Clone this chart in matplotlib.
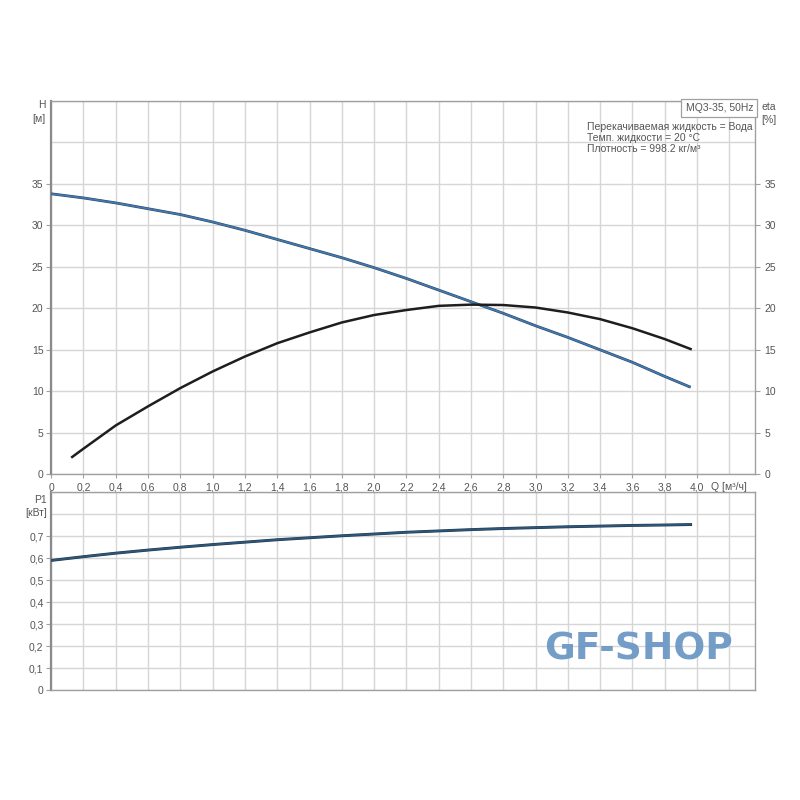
import matplotlib
matplotlib.use("Agg")
import matplotlib.pyplot as plt
import matplotlib.patheffects as pe
import numpy as np

plt.rcParams['font.family'] = ['Liberation Sans', 'DejaVu Sans']

# ---- data ----
q_h = [0.0, 0.2, 0.4, 0.6, 0.8, 1.0, 1.2, 1.4, 1.6, 1.8, 2.0, 2.2, 2.4, 2.6, 2.8, 3.0, 3.2, 3.4, 3.6, 3.8, 3.96]
head = [33.8, 33.3, 32.7, 32.0, 31.3, 30.4, 29.4, 28.3, 27.2, 26.1, 24.9, 23.6, 22.2, 20.8, 19.4, 17.9, 16.5, 15.0, 13.5, 11.8, 10.5]

q_eta = [0.13, 0.2, 0.4, 0.6, 0.8, 1.0, 1.2, 1.4, 1.6, 1.8, 2.0, 2.2, 2.4, 2.6, 2.8, 3.0, 3.2, 3.4, 3.6, 3.8, 3.96]
eta = [2.1, 3.1, 5.9, 8.2, 10.4, 12.4, 14.2, 15.8, 17.1, 18.3, 19.2, 19.8, 20.3, 20.45, 20.4, 20.1, 19.5, 18.7, 17.6, 16.3, 15.1]

q_p = [0.0, 0.2, 0.4, 0.6, 0.8, 1.0, 1.2, 1.4, 1.6, 1.8, 2.0, 2.2, 2.4, 2.6, 2.8, 3.0, 3.2, 3.4, 3.6, 3.8, 3.96]
p1 = [0.589, 0.606, 0.622, 0.636, 0.649, 0.661, 0.672, 0.683, 0.692, 0.701, 0.709, 0.717, 0.723, 0.729, 0.734, 0.738, 0.742, 0.745, 0.748, 0.750, 0.752]

q_ticks = [0.0, 0.2, 0.4, 0.6, 0.8, 1.0, 1.2, 1.4, 1.6, 1.8, 2.0, 2.2, 2.4, 2.6, 2.8, 3.0, 3.2, 3.4, 3.6, 3.8, 4.0]
q_tick_labels = ["0", "0,2", "0,4", "0,6", "0,8", "1,0", "1,2", "1,4", "1,6", "1,8", "2,0",
                 "2,2", "2,4", "2,6", "2,8", "3,0", "3,2", "3,4", "3,6", "3,8", "4,0"]
h_ticks = [0, 5, 10, 15, 20, 25, 30, 35]
p_ticks = [0, 0.1, 0.2, 0.3, 0.4, 0.5, 0.6, 0.7]
p_tick_labels = ["0", "0,1", "0,2", "0,3", "0,4", "0,5", "0,6", "0,7"]

info_lines = ["Перекачиваемая жидкость = Вода", "Темп. жидкости = 20 °C", "Плотность = 998.2 кг/м³"]
title_box = "MQ3-35, 50Hz"

# ---- style ----
GRID = '#d6d6d6'
SPINE = '#a0a0a0'
TXT = '#555555'
FS = 7.5

fig = plt.figure(figsize=(8, 8), dpi=100)
fig.patch.set_facecolor('white')

XMAX = 4.36

def style_axes(ax, ymax, grid_extra):
    ax.set_xlim(0, XMAX)
    ax.set_ylim(0, ymax)
    ax.set_xticks(q_ticks)
    ax.set_xticks([4.2], minor=True)
    ax.set_yticks(grid_extra, minor=True)
    ax.grid(True, which='both', color=GRID, lw=1.0)
    ax.set_axisbelow(True)
    for s in ax.spines.values():
        s.set_color(SPINE)
        s.set_linewidth(1.0)
    ax.spines['left'].set_color('#8a8a8a')
    ax.spines['left'].set_linewidth(1.6)
    ax.tick_params(which='minor', length=0)
    ax.tick_params(which='major', length=3.5, color=SPINE, labelsize=FS, labelcolor=TXT, pad=2)

# top axes
ax = fig.add_axes([0.064, 0.407, 0.880, 0.467])
style_axes(ax, 45, [40, 45])
ax.set_yticks(h_ticks)
ax.set_yticklabels([str(t) for t in h_ticks])
ax.set_xticklabels(q_tick_labels)
ax.tick_params(axis='x', length=3, pad=3)

ax.plot(q_h, head, color='#4479b0', lw=1.2, solid_capstyle='butt',
        path_effects=[pe.Stroke(linewidth=2.0, foreground='#2b4a66'), pe.Normal()], zorder=3)
ax.plot(q_eta, eta, color='#1e1e1e', lw=1.8, zorder=3)

axr = ax.twinx()
axr.set_ylim(0, 45)
axr.set_yticks(h_ticks)
axr.set_yticklabels([str(t) for t in h_ticks])
axr.tick_params(axis='y', length=3.5, color=SPINE, labelsize=FS, labelcolor=TXT, pad=3)
for s in axr.spines.values():
    s.set_visible(False)

ax.text(4.2, -0.034, "Q [м³/ч]", transform=ax.get_xaxis_transform(), ha='center', va='center',
        fontsize=FS, color=TXT)
ax.text(0.997, 0.995, title_box, transform=ax.transAxes, ha='right', va='top', fontsize=FS,
        color=TXT, bbox=dict(boxstyle='square,pad=0.4', fc='white', ec=SPINE, lw=0.9), zorder=5)
for i, line in enumerate(info_lines):
    ax.text(0.761, 0.929 - i * 0.0295, line, transform=ax.transAxes, ha='left', va='center',
            fontsize=7.5, color=TXT, zorder=5)

fig.text(0.057, 0.860, "H\n[м]", ha='right', va='center', fontsize=FS, color=TXT, linespacing=1.4)
fig.text(0.952, 0.858, "eta\n[%]", ha='left', va='center', fontsize=FS, color=TXT, linespacing=1.4)

# bottom axes
axb = fig.add_axes([0.064, 0.1375, 0.880, 0.2475])
style_axes(axb, 0.9, [0.8, 0.9])
axb.set_yticks(p_ticks)
axb.set_yticklabels(p_tick_labels)
axb.tick_params(axis='x', length=0, labelbottom=False)
axb.plot(q_p, p1, color='#2f5677', lw=1.3,
         path_effects=[pe.Stroke(linewidth=2.1, foreground='#1f3a52'), pe.Normal()], zorder=3)

fig.text(0.059, 0.367, "P1\n[кВт]", ha='right', va='center', fontsize=FS, color=TXT, linespacing=1.3)

fig.text(0.798, 0.188, "GF-SHOP", ha='center', va='center', fontsize=27, fontweight='heavy',
         family='DejaVu Sans', color='#6c98c4', alpha=0.95)

fig.savefig('out.png', dpi=100, facecolor='white')
